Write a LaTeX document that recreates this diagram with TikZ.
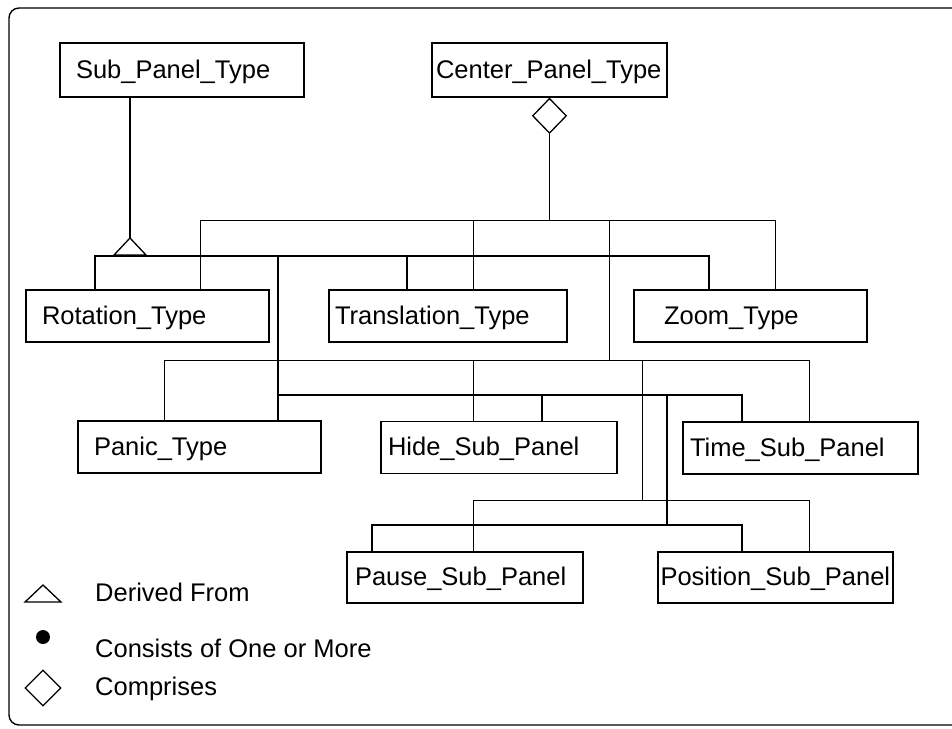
\documentclass[tikz,border=0pt]{standalone}
\usepackage{fontspec}
\setmainfont{Liberation Sans}
\usetikzlibrary{shapes.geometric}
\newcommand\boxfont{\fontsize{25.5pt}{30pt}\selectfont}
\tikzset{
  cls/.style={draw, line width=1.3pt, minimum height=52pt, inner ysep=0pt, text height=20pt, text depth=4pt, align=left, font=\boxfont},
  comp/.style={line width=1pt},
  gen/.style={line width=2.4pt},
  legtext/.style={anchor=base west, inner sep=0pt, font=\boxfont},
}
\begin{document}
\begin{tikzpicture}[x=1pt,y=-1pt]
\useasboundingbox (0,0) rectangle (952,728);
\clip (0,0) rectangle (952,728);

\draw[line width=1.4pt, rounded corners=10pt] (9,8) rectangle (980,725);

\node[cls, minimum height=54pt, text width=212pt, inner xsep=16pt] (sub) at (182,70) {Sub\_Panel\_Type};
\node[cls, minimum height=54pt, text width=227pt, inner xsep=4pt] (cpt) at (549.5,70) {Center\_Panel\_Type};
\node[cls, text width=211pt, inner xsep=16pt] (rot) at (147.5,316) {Rotation\_Type};
\node[cls, text width=226pt, inner xsep=6pt] (tra) at (448,316) {Translation\_Type};
\node[cls, text width=173pt, inner xsep=30pt] (zoo) at (750.5,316) {Zoom\_Type};
\node[cls, text width=211pt, inner xsep=16pt] (pan) at (199.5,447) {Panic\_Type};
\node[cls, text width=222pt, inner xsep=7pt] (hid) at (499,447.5) {Hide\_Sub\_Panel};
\node[cls, text width=221pt, inner xsep=7pt] (tim) at (800.5,448) {Time\_Sub\_Panel};
\node[cls, minimum height=51pt, text width=220pt, inner xsep=8pt] (pau) at (465,577.5) {Pause\_Sub\_Panel};
\node[cls, minimum height=51pt, text width=230pt, inner xsep=2.5pt] (pos) at (775.5,577.5) {Position\_Sub\_Panel};

\node[diamond, draw, line width=1.3pt, minimum width=34pt, minimum height=35pt, inner sep=0pt, anchor=north] (dia) at (cpt.south) {};

\coordinate (t1) at (200,220); \coordinate (t2) at (473,220); \coordinate (t3) at (609,220); \coordinate (t4) at (775,220);
\coordinate (t5) at (164,360); \coordinate (t6) at (473,360); \coordinate (t7) at (642,360); \coordinate (t8) at (809,360);
\coordinate (t9) at (473,500); \coordinate (t10) at (809,500);

\draw[comp] (dia.south) -- (dia.south |- t1);
\draw[comp] (t1 |- rot.north) -- (t1) -- (t4) -- (t4 |- zoo.north);
\draw[comp] (t2) -- (t2 |- tra.north);
\draw[comp] (t3) -- (t3 |- t5);
\draw[comp] (t5 |- pan.north) -- (t5) -- (t8) -- (t8 |- tim.north);
\draw[comp] (t6) -- (t6 |- hid.north);
\draw[comp] (t7) -- (t7 |- t9);
\draw[comp] (t9 |- pau.north) -- (t9) -- (t10) -- (t10 |- pos.north);

\coordinate (apex) at (130,238);
\coordinate (d1) at (95,256); \coordinate (d2) at (278,256); \coordinate (d3) at (407,256); \coordinate (d4) at (709,256);
\coordinate (d5) at (278,395); \coordinate (d6) at (542,395); \coordinate (d7) at (667,395); \coordinate (d8) at (742,395);
\coordinate (d9) at (372,525); \coordinate (d10) at (742,525);

\draw[gen] (sub.south -| apex) -- (apex);
\draw[line width=1.3pt, line join=miter] (apex) -- ++(-16,17) -- ++(32,0) -- cycle;
\draw[gen] (d1 |- rot.north) -- (d1) -- (d4) -- (d4 |- zoo.north);
\draw[gen] (d3) -- (d3 |- tra.north);
\draw[gen] (d2) -- (d2 |- pan.north);
\draw[gen] (d5) -- (d8) -- (d8 |- tim.north);
\draw[gen] (d6) -- (d6 |- hid.north);
\draw[gen] (d7) -- (d7 |- d9);
\draw[gen] (d9 |- pau.north) -- (d9) -- (d10) -- (d10 |- pos.north);

\coordinate (lgtri) at (43,585);
\draw[line width=1.3pt] (lgtri) -- ++(-18,17) -- ++(36,0) -- cycle;
\node[circle, fill, minimum size=14pt, inner sep=0pt] (lgdot) at (43,637) {};
\node[diamond, draw, line width=1.3pt, minimum width=36pt, minimum height=36pt, inner sep=0pt] (lgdia) at (43,688) {};
\node[legtext] (lg1) at (95,601) {Derived From};
\node[legtext] (lg2) at (95,657) {Consists of One or More};
\node[legtext] (lg3) at (95,695) {Comprises};

\end{tikzpicture}
\end{document}
